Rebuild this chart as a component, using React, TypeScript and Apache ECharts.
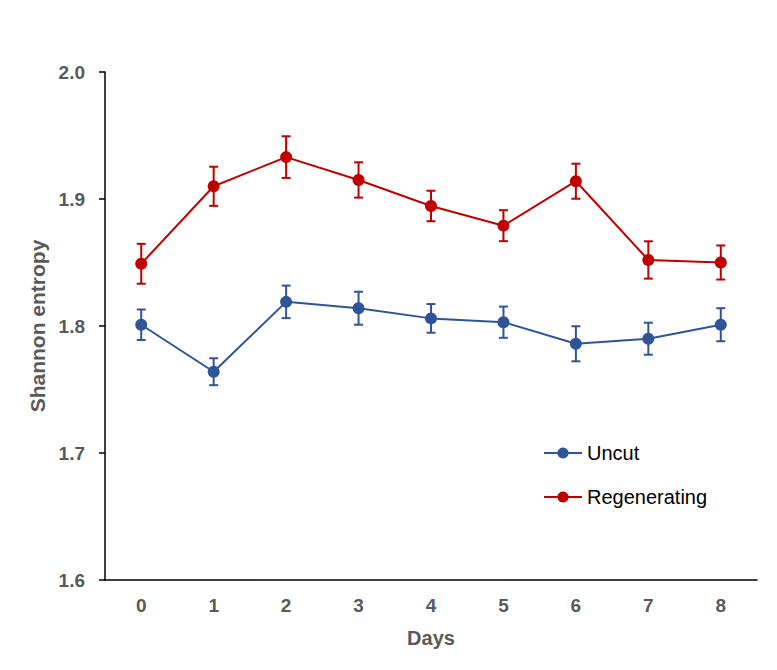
import React, { useEffect, useRef } from "react";
import * as echarts from "echarts";

const days = ["0", "1", "2", "3", "4", "5", "6", "7", "8"];
const uncut = [1.801, 1.764, 1.819, 1.814, 1.806, 1.803, 1.786, 1.790, 1.801];
const uncutErr = [0.012, 0.0106, 0.0128, 0.013, 0.0113, 0.0123, 0.0138, 0.0126, 0.013];
const regen = [1.849, 1.910, 1.933, 1.915, 1.8945, 1.879, 1.914, 1.852, 1.850];
const regenErr = [0.0157, 0.0154, 0.0164, 0.0139, 0.012, 0.0122, 0.0138, 0.0147, 0.0134];
const yTicks = { min: 1.6, max: 2.0, interval: 0.1 };

const BLUE = "#2F5597";
const RED = "#C00000";
const GRAY = "#595959";
const FONT = "'Liberation Sans', Arial, sans-serif";

function errorSeries(name: string, vals: number[], errs: number[], color: string) {
  const data = vals.map((v, i) => [i, v - errs[i], v + errs[i]]);
  return {
    type: "custom",
    name: name + "-err",
    z: 3,
    data,
    renderItem: (params: any, api: any) => {
      const x = api.value(0);
      const lo = api.coord([x, api.value(1)]);
      const hi = api.coord([x, api.value(2)]);
      const w = 4.5;
      const style = { stroke: color, lineWidth: 2 };
      return {
        type: "group",
        children: [
          { type: "line", shape: { x1: lo[0], y1: lo[1], x2: hi[0], y2: hi[1] }, style },
          { type: "line", shape: { x1: lo[0] - w, y1: lo[1], x2: lo[0] + w, y2: lo[1] }, style },
          { type: "line", shape: { x1: hi[0] - w, y1: hi[1], x2: hi[0] + w, y2: hi[1] }, style },
        ],
      };
    },
  };
}

export default function App() {
  const ref = useRef<HTMLDivElement>(null);
  useEffect(() => {
    if (!ref.current) return;
    const chart = echarts.init(ref.current, undefined, { renderer: "svg" });
    chart.setOption({
      animation: false,
      backgroundColor: "#ffffff",
      textStyle: { fontFamily: FONT },
      grid: { left: 97, top: 64, right: 12, bottom: 82, containLabel: false },
      legend: {
        data: ["Uncut", "Regenerating"],
        orient: "vertical",
        left: 530,
        top: 430,
        itemWidth: 38,
        itemHeight: 14,
        itemGap: 24,
        textStyle: { fontSize: 20, color: "#000", fontFamily: FONT },
      },
      xAxis: {
        type: "category",
        data: days,
        boundaryGap: true,
        name: "Days",
        nameLocation: "middle",
        nameGap: 48,
        nameTextStyle: { fontSize: 20, fontWeight: "bold", color: GRAY, fontFamily: FONT },
        axisLine: { lineStyle: { color: "#000", width: 1.5 } },
        axisTick: { show: false },
        axisLabel: { fontSize: 19, fontWeight: "bold", color: GRAY, margin: 16, fontFamily: FONT },
      },
      yAxis: {
        type: "value",
        min: yTicks.min,
        max: yTicks.max,
        interval: yTicks.interval,
        name: "Shannon entropy",
        nameLocation: "middle",
        nameGap: 52,
        nameRotate: 90,
        nameTextStyle: { fontSize: 21, fontWeight: "bold", color: GRAY, fontFamily: FONT },
        axisLine: { show: true, lineStyle: { color: "#000", width: 1.5 } },
        axisTick: { show: true, inside: false, length: 6, lineStyle: { color: "#000", width: 1.5 } },
        splitLine: { show: false },
        axisLabel: {
          fontSize: 19,
          fontWeight: "bold",
          color: GRAY,
          margin: 20,
          fontFamily: FONT,
          formatter: (v: number) => v.toFixed(1),
        },
      },
      series: [
        errorSeries("Uncut", uncut, uncutErr, BLUE),
        errorSeries("Regenerating", regen, regenErr, RED),
        {
          type: "line",
          name: "Uncut",
          data: uncut,
          symbol: "circle",
          symbolSize: 12,
          z: 4,
          itemStyle: { color: BLUE },
          lineStyle: { color: BLUE, width: 2 },
        },
        {
          type: "line",
          name: "Regenerating",
          data: regen,
          symbol: "circle",
          symbolSize: 12,
          z: 4,
          itemStyle: { color: RED },
          lineStyle: { color: RED, width: 2 },
        },
      ],
    });
    return () => chart.dispose();
  }, []);
  return <div ref={ref} style={{ width: 761, height: 654 }} />;
}
